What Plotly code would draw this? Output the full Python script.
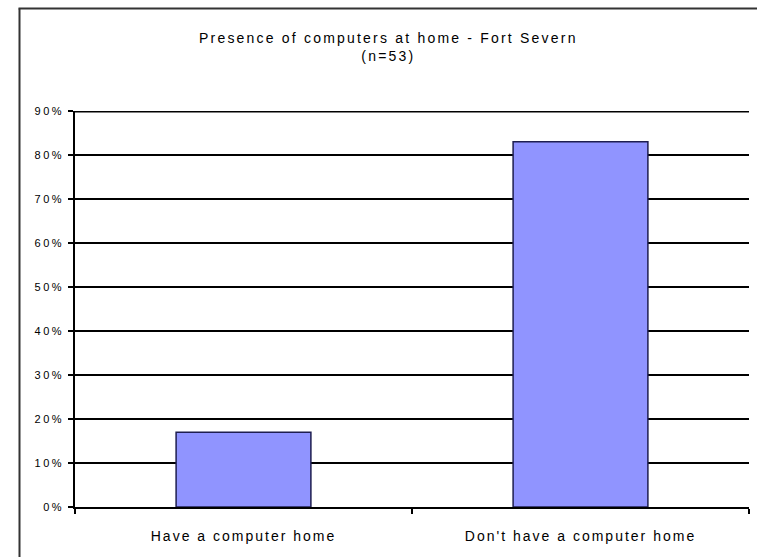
import plotly.graph_objects as go

# Survey result: share of respondents with / without a home computer
categories = ["Have a computer home", "Don't have a computer home"]
shares = [0.17, 0.83]
y_ticks = [0.0, 0.1, 0.2, 0.3, 0.4, 0.5, 0.6, 0.7, 0.8, 0.9]
y_tick_labels = ["0%", "10%", "20%", "30%", "40%", "50%", "60%", "70%", "80%", "90%"]
title_lines = ["Presence of computers at home - Fort Severn", "(n=53)"]

W, H = 757, 557
L, R, T, B = 75, 8, 111, 50
pw, ph = W - L - R, H - T - B


def px_to_paper_x(px):
    return (px - L) / pw


def px_to_paper_y(py):
    return (H - B - py) / ph


def spaced(text, spacing):
    return f'<span style="letter-spacing:{spacing}px">{text}</span>'


fig = go.Figure(
    go.Bar(
        x=categories,
        y=shares,
        marker=dict(color="#9094FF", line=dict(color="#1E1E50", width=1.5)),
        width=0.4,
    )
)

font = "Arial, 'Liberation Sans', sans-serif"

fig.update_layout(
    width=W,
    height=H,
    margin=dict(l=L, r=R, t=T, b=B, pad=0),
    paper_bgcolor="white",
    plot_bgcolor="white",
    showlegend=False,
    font=dict(family=font, color="black"),
    xaxis=dict(
        tickvals=categories,
        ticktext=[spaced(c, 2) for c in categories],
        showline=True,
        linecolor="black",
        linewidth=1.5,
        ticks="outside",
        tickson="boundaries",
        ticklen=5,
        tickcolor="black",
        tickwidth=1.5,
        showgrid=False,
        tickfont=dict(size=14, family=font, color="#000"),
        ticklabelstandoff=15,
    ),
    yaxis=dict(
        range=[0, 0.9],
        tickvals=y_ticks,
        ticktext=[spaced(t, 2.5) for t in y_tick_labels],
        showline=True,
        linecolor="black",
        linewidth=1.5,
        ticks="outside",
        ticklen=5,
        tickcolor="black",
        tickwidth=1.5,
        showgrid=True,
        gridcolor="black",
        gridwidth=1.5,
        zeroline=False,
        tickfont=dict(size=11, family=font, color="#000"),
        ticklabelstandoff=2,
    ),
    annotations=[
        dict(
            text="<br>".join(spaced(t, 2.2) for t in title_lines),
            xref="paper",
            yref="paper",
            x=px_to_paper_x(388),
            y=px_to_paper_y(47),
            xanchor="center",
            yanchor="middle",
            showarrow=False,
            font=dict(size=14, family=font, color="#000"),
        )
    ],
    shapes=[
        # top gridline at the upper end of the value range (half of it is clipped)
        dict(type="line", xref="paper", yref="y",
             x0=0, x1=1, y0=y_ticks[-1], y1=y_ticks[-1],
             line=dict(color="black", width=3), layer="below"),
        # chart-area frame (left and top edges)
        dict(type="line", xref="paper", yref="paper",
             x0=px_to_paper_x(19.5), x1=px_to_paper_x(19.5),
             y0=px_to_paper_y(8.5), y1=px_to_paper_y(560),
             line=dict(color="#333333", width=2), layer="above"),
        dict(type="line", xref="paper", yref="paper",
             x0=px_to_paper_x(18.5), x1=px_to_paper_x(760),
             y0=px_to_paper_y(8.5), y1=px_to_paper_y(8.5),
             line=dict(color="#333333", width=2), layer="above"),
    ],
)

fig.write_html("out.html")
